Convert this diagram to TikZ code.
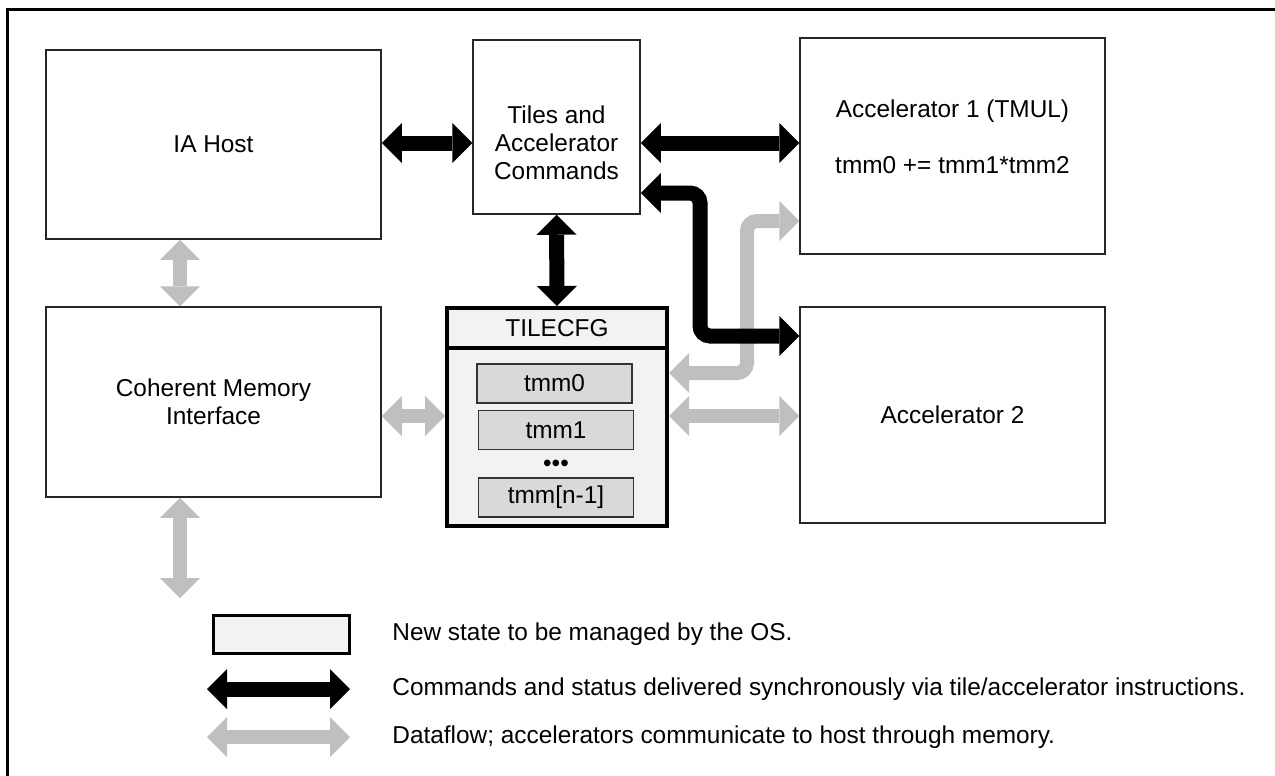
\documentclass[tikz,border=0pt]{standalone}
\usepackage{fontspec}
\setmainfont{Liberation Sans}
\usepackage{xcolor}
\usepackage{tikz}
\usetikzlibrary{arrows.meta}

\definecolor{flowgray}{HTML}{BFBFBF}
\definecolor{statefill}{HTML}{F2F2F2}
\definecolor{regfill}{HTML}{D9D9D9}

\begin{document}
\begin{tikzpicture}[x=0.5pt, y=-0.5pt,
    every node/.style={font=\fontsize{12.2}{14}\selectfont, inner sep=0pt},
    unit/.style={draw=black!85, line width=0.75pt, align=center},
    state/.style={draw=black, line width=2pt, fill=statefill},
    reg/.style={draw=black!80, line width=0.6pt, fill=regfill,
        minimum width=77.5pt, minimum height=19.5pt},
    cmd/.style={line width=7.5pt,
        {Triangle[length=10pt, width=20pt, line width=0pt]}-{Triangle[length=10pt, width=20pt, line width=0pt]}},
    flow/.style={cmd, line width=7pt, draw=flowgray}]
    \useasboundingbox (0,0) rectangle (1275,776);
    \draw[line width=1.5pt] (7,9) rectangle (1290,790);

    % blocks
    \node[unit, minimum width=167.5pt, minimum height=94.5pt] (host) at (213.5,144.5) {IA Host};
    \node[unit, minimum width=83.5pt, minimum height=87pt] (tiles) at (556.5,127) {};
    \node[align=center] (tilestext) at (556.5,143) {Tiles and\\Accelerator\\Commands};
    \node[unit, minimum width=152.5pt, minimum height=108pt] (acc1) at (952.5,146) {};
    \node[align=center] (acc1text) at (952.5,136.5) {Accelerator 1 (TMUL)\\[14pt]tmm0 += tmm1*tmm2};
    \node[unit, minimum width=152.5pt, minimum height=108pt] (acc2) at (952.5,415) {Accelerator 2};
    \node[unit, minimum width=167.5pt, minimum height=95pt] (cmi) at (213.5,402) {Coherent Memory\\Interface};

    % tile state
    \node[state, minimum width=110pt, minimum height=109pt] (tilecfg) at (557,417) {};
    \draw[line width=2pt] (tilecfg.west |- 0,348) -- (tilecfg.east |- 0,348);
    \node (cfgtitle) at (557,328) {TILECFG};
    \node[reg] (tmm0) at (554.5,383.5) {tmm0};
    \node[reg] (tmm1) at (556,430) {tmm1};
    \node (dots) at (556,466) {•••};
    \node[reg] (tmmn) at (556,497.5) {tmm[n-1]};

    % dataflow
    \coordinate (memout) at (180,598);
    \draw[flow] (host.south -| 180,0) -- (cmi.north -| 180,0);
    \draw[flow] (cmi.south -| 180,0) -- (memout);
    \draw[flow] (cmi.east |- 0,416) -- (tilecfg.west |- 0,416);
    \draw[flow] (tilecfg.east |- 0,416) -- (acc2.west |- 0,416);
    \draw[flow, rounded corners=5pt] (tilecfg.east |- 0,373) -| (747,221) -- (acc1.west |- 0,221);

    % commands
    \draw[cmd] (host.east |- 0,143) -- (tiles.west |- 0,143);
    \draw[cmd] (tiles.east |- 0,143) -- (acc1.west |- 0,143);
    \draw[cmd] (tiles.south) -- (tilecfg.north);
    \draw[cmd, rounded corners=5pt] (tiles.east |- 0,193) -| (700,336) -- (acc2.west |- 0,336);

    % legend
    \node[state, line width=1.5pt, minimum width=68pt, minimum height=19pt] (legstate) at (281,634) {};
    \node[anchor=west] (legstatetext) at (392,634) {New state to be managed by the OS.};
    \coordinate (legcmda) at (207,689);
    \coordinate (legcmdb) at (350,689);
    \draw[cmd] (legcmda) -- (legcmdb);
    \node[anchor=west] (legcmdtext) at (392,689) {Commands and status delivered synchronously via tile/accelerator instructions.};
    \coordinate (legflowa) at (207,737);
    \coordinate (legflowb) at (350,737);
    \draw[flow] (legflowa) -- (legflowb);
    \node[anchor=west] (legflowtext) at (392,737) {Dataflow; accelerators communicate to host through memory.};
\end{tikzpicture}
\end{document}
